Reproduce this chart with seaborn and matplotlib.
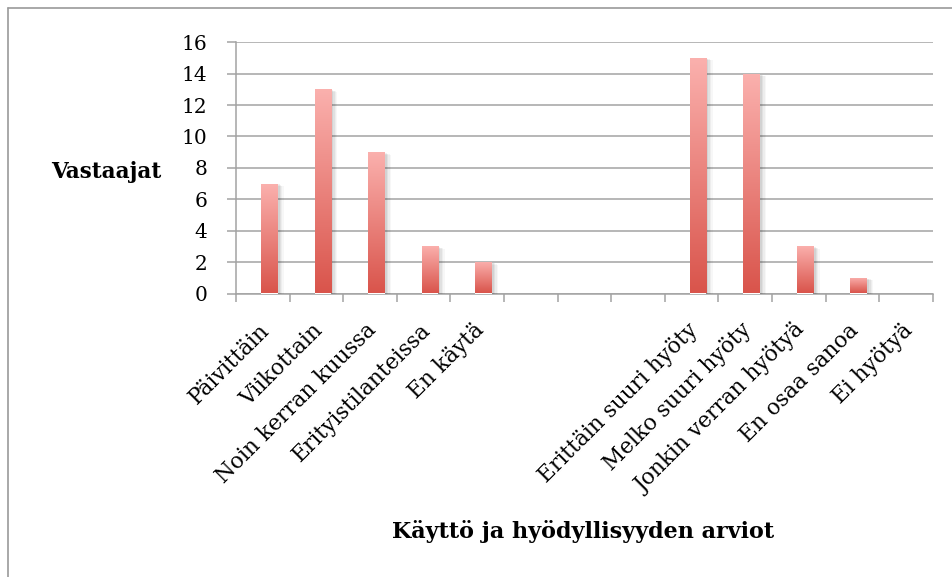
import numpy as np
import pandas as pd
import matplotlib
matplotlib.use("Agg")
import matplotlib.pyplot as plt
import seaborn as sns
from matplotlib.colors import LinearSegmentedColormap
from matplotlib.lines import Line2D
from matplotlib import patheffects as pe

# Category axis: usage frequency, three empty spacer slots, usefulness ratings
categories = ["Päivittäin", "Viikottain", "Noin kerran kuussa", "Erityistilanteissa", "En käytä",
              "", "", "",
              "Erittäin suuri hyöty", "Melko suuri hyöty", "Jonkin verran hyötyä",
              "En osaa sanoa", "Ei hyötyä"]
respondents = [7, 13, 9, 3, 2, None, None, None, 15, 14, 3, 1, 0]
y_ticks = [0, 2, 4, 6, 8, 10, 12, 14, 16]

BAR_SHIFT = 0.12
GRID = "#a3a3a3"

sns.set_style("white")
plt.rcParams["font.family"] = ["DejaVu Serif"]
plt.rcParams["text.color"] = "black"
plt.rcParams["axes.labelcolor"] = "black"

slots = np.arange(len(categories))
df = pd.DataFrame({"slot": slots, "value": respondents}).dropna()
df["pos"] = df["slot"] + BAR_SHIFT

fig = plt.figure(figsize=(9.53, 5.77), dpi=100)
ax = fig.add_axes([236 / 953, 1 - 293.5 / 577, (932.7 - 236) / 953, (293.5 - 42.3) / 577])

sns.barplot(data=df, x="pos", y="value", native_scale=True, width=0.31, ax=ax,
            color="#e06060", linewidth=0, zorder=3)

# Vertical gradient fill for every bar, light pink at the top to red at the base
cmap = LinearSegmentedColormap.from_list("bar", ["#d9544b", "#fbb1ae"])
grad = np.linspace(0, 1, 256).reshape(-1, 1)
soft_shadow = [pe.SimplePatchShadow(offset=(d, -d * 0.4), shadow_rgbFace="#000000", alpha=a)
               for d, a in ((4.5, 0.03), (3.5, 0.04), (2.5, 0.05), (1.5, 0.06))]
for patch in list(ax.patches):
    x0, y0 = patch.get_x(), patch.get_y()
    w, h = patch.get_width(), patch.get_height()
    if h <= 0:
        continue
    patch.set_facecolor((1, 1, 1, 1))
    patch.set_path_effects(soft_shadow + [pe.Normal()])
    im = ax.imshow(grad, cmap=cmap, aspect="auto", origin="lower",
                   extent=(x0, x0 + w, y0, y0 + h), zorder=4)
    im.set_clip_path(patch)
ax.set_xlim(-0.5, len(categories) - 0.5)
ax.set_ylim(0, 16)

# Horizontal gridlines and axes
ax.set_yticks(y_ticks)
ax.set_yticklabels([str(v) for v in y_ticks], fontsize=14.5)
ax.yaxis.grid(True, color=GRID, linewidth=1.1)
ax.xaxis.grid(False)
ax.set_axisbelow(True)
for side in ("top", "right"):
    ax.spines[side].set_visible(False)
for side in ("left", "bottom"):
    ax.spines[side].set_color(GRID)
    ax.spines[side].set_linewidth(1.1)
    ax.spines[side].set_zorder(2)

ax.tick_params(axis="y", direction="out", length=6.5, width=1.1, color=GRID, pad=14,
               left=True, labelcolor="black")
ax.set_xticks(np.arange(-0.5, len(categories), 1.0))
ax.set_xticklabels([])
ax.tick_params(axis="x", which="major", direction="out", length=6, width=1.1, color=GRID, bottom=True)
ax.set_xticks(slots + 0.06, minor=True)
ax.set_xticklabels(categories, minor=True, rotation=45, ha="right", va="center",
                   rotation_mode="anchor", fontsize=15.6)
ax.tick_params(axis="x", which="minor", length=0, pad=24, labelcolor="black")

ax.set_xlabel("Käyttö ja hyödyllisyyden arviot", fontsize=16, fontweight="bold")
ax.xaxis.set_label_coords(0.498, -0.949)
ax.xaxis.label.set_va("center")
ax.set_ylabel("Vastaajat", fontsize=15.5, fontweight="bold", rotation=0, ha="center", va="center")
ax.yaxis.set_label_coords(-0.1866, 0.4837)

# Outer frame of the chart area
fig.add_artist(Line2D([8.5 / 953, 8.5 / 953], [0, 1 - 7.5 / 577], color="#9a9a9a", linewidth=1.2))
fig.add_artist(Line2D([8.5 / 953, 1], [1 - 7.5 / 577, 1 - 7.5 / 577], color="#9a9a9a", linewidth=1.2))

fig.savefig("out.png", dpi=100)
